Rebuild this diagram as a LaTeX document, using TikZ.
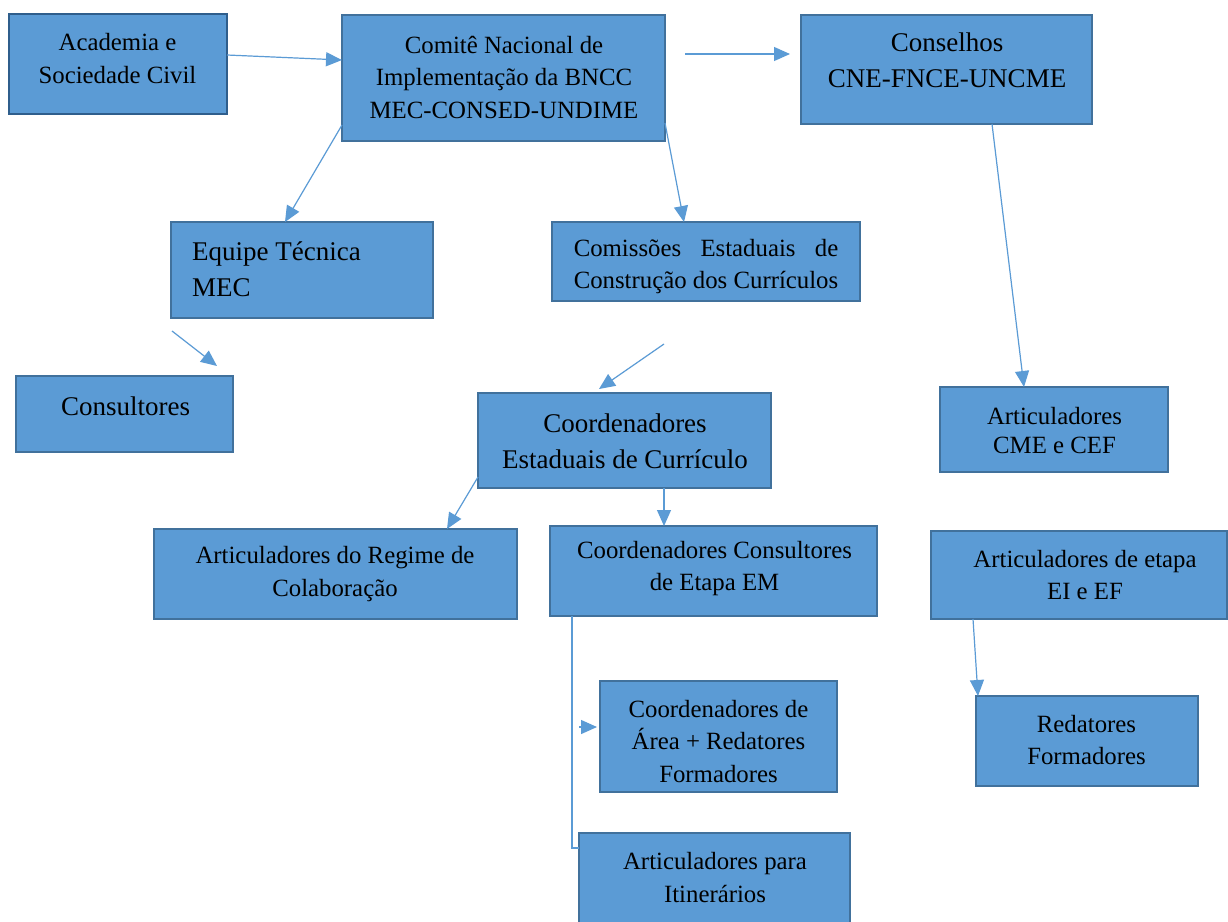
\documentclass[tikz,border=0pt]{standalone}
\usepackage{fontspec}
\setmainfont{Liberation Serif}
\usetikzlibrary{arrows.meta,calc}
\definecolor{boxfill}{HTML}{5B9BD5}
\definecolor{boxline}{HTML}{41719C}
\definecolor{boxdark}{HTML}{2F5E8C}
\definecolor{arrowc}{HTML}{5B9BD5}
\newlength\comlen
\begin{document}
\begin{tikzpicture}[x=1pt,y=-1pt,
 box/.style={rectangle, fill=boxfill, draw=boxline, line width=2.2pt, inner sep=0pt, outer sep=0pt},
 txt/.style={inner sep=0pt, align=center, font=\fontsize{24.8}{32.5}\selectfont},
 bigtxt/.style={inner sep=0pt, align=center, font=\fontsize{27}{36}\selectfont},
 conn/.style={draw=arrowc, line width=1.2pt, -{Triangle[length=16pt,width=14pt]}},
 plainline/.style={draw=arrowc, line width=1.2pt}]
\useasboundingbox (0,0) rectangle (1228,921);
\fill[white] (0,0) rectangle (1228,921);
\clip (0,0) rectangle (1228,921);

% boxes
\node[box, draw=boxdark, line width=2.8pt, minimum width=218pt, minimum height=100pt] (acad) at (118,64) {};
\node[box, minimum width=323pt, minimum height=126pt] (comite) at (503.5,78) {};
\node[box, minimum width=291pt, minimum height=109pt] (cons) at (946.5,69.5) {};
\node[box, minimum width=262pt, minimum height=96pt] (equipe) at (302,270) {};
\node[box, minimum width=308pt, minimum height=79pt] (comiss) at (706,261.5) {};
\node[box, minimum width=217pt, minimum height=76pt] (consult) at (124.5,414) {};
\node[box, minimum width=293pt, minimum height=95pt] (coordest) at (624.5,440.5) {};
\node[box, minimum width=228pt, minimum height=85pt] (artcme) at (1054,429.5) {};
\node[box, minimum width=363pt, minimum height=90pt] (artreg) at (335.5,574) {};
\node[box, minimum width=327pt, minimum height=90pt] (coordcons) at (713.5,571) {};
\node[box, minimum width=296pt, minimum height=88pt] (artetapa) at (1079,575) {};
\node[box, minimum width=237pt, minimum height=111pt] (coordarea) at (718.5,736.5) {};
\node[box, minimum width=222pt, minimum height=90pt] (redat) at (1087,741) {};
\node[box, minimum width=271pt, minimum height=102pt] (artitin) at (714.5,884) {};

% texts
\node[txt] (acad-t) at (117.5,58.5) {Academia e\\Sociedade Civil};
\node[txt] (comite-t) at (504,77) {Comitê Nacional de\\Implementação da BNCC\\MEC-CONSED-UNDIME};
\node[bigtxt] (cons-t) at (947,60) {Conselhos\\CNE-FNCE-UNCME};
\node[bigtxt, align=left, anchor=west] (equipe-t) at (192,269.5) {Equipe Técnica\\MEC};
\node[txt, align=left] (comiss-t) at (706,266.5) {\settowidth{\comlen}{Construção dos Currículos}\makebox[\comlen][s]{Comissões Estaduais de}\\Construção dos Currículos};
\node[bigtxt] (consult-t) at (125.5,406) {Consultores};
\node[bigtxt] (coordest-t) at (625,441) {Coordenadores\\Estaduais de Currículo};
\node[txt] (artcme-t) at (1054.5,430.5) {Articuladores\\[-3.5pt]CME e CEF};
\node[txt] (artreg-t) at (335,574) {Articuladores do Regime de\\Colaboração};
\node[txt] (coordcons-t) at (714.5,568.5) {Coordenadores Consultores\\de Etapa EM};
\node[txt] (artetapa-t) at (1085,575) {Articuladores de etapa\\EI e EF};
\node[txt] (coordarea-t) at (718.5,741.5) {Coordenadores de\\Área + Redatores\\Formadores};
\node[txt] (redat-t) at (1086.5,740) {Redatores\\Formadores};
\node[txt] (artitin-t) at (715,877.5) {Articuladores para\\Itinerários};

% free connector ends
\coordinate (fa1) at (685,54);
\coordinate (fa2) at (790,54);
\coordinate (fb1) at (172,331);
\coordinate (fb2) at (217,366);
\coordinate (fc1) at (664,344);
\coordinate (fc2) at (599,389);
\coordinate (bend) at (572,848);
\coordinate (ca1) at (579,727);

% connectors
\draw[conn] ([yshift=9pt]acad.east) -- ([yshift=18pt]comite.west);
\draw[conn] (fa1) -- (fa2);
\draw[conn] ([yshift=16pt]comite.south west) -- ([xshift=-17pt]equipe.north);
\draw[conn] ([yshift=18pt]comite.south east) -- ([xshift=-22pt]comiss.north);
\draw[conn] (fb1) -- (fb2);
\draw[conn] (fc1) -- (fc2);
\draw[conn] ([xshift=45.5pt]cons.south) -- ([xshift=-30pt]artcme.north);
\draw[conn] ([yshift=11pt]coordest.south west) -- ([xshift=-70pt]artreg.north east);
\draw[conn] ([xshift=39.5pt]coordest.south) -- ([xshift=-49.5pt]coordcons.north);
\draw[plainline] ([xshift=22pt]coordcons.south west) -- (bend) -- (artitin.west |- bend);
\draw[conn] (ca1) -- ([xshift=-3pt]coordarea.west |- ca1);
\draw[conn] ([xshift=42pt]artetapa.south west) -- ([xshift=2pt]redat.north west);
\end{tikzpicture}
\end{document}
